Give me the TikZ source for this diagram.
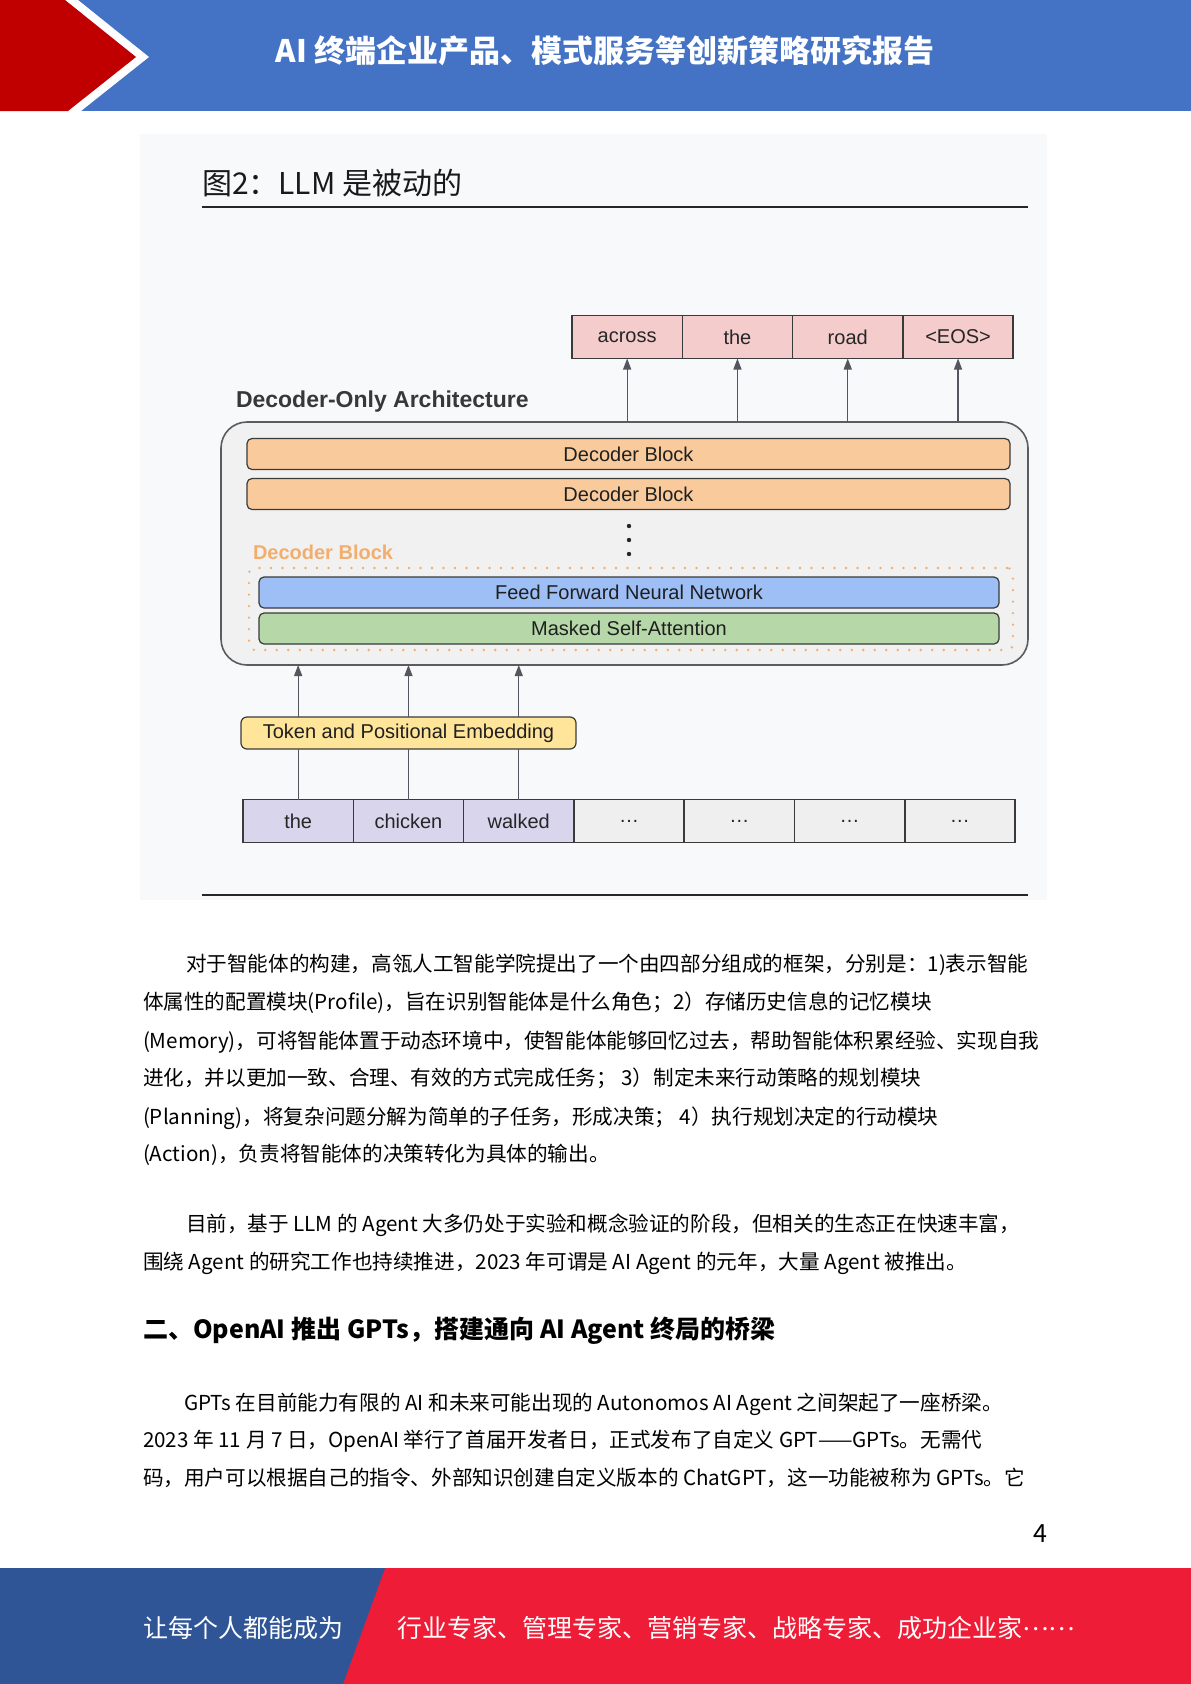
\documentclass[tikz,border=0pt]{standalone}
\usepackage{fontspec}
\setmainfont{Noto Sans CJK SC}
\newfontfamily\arialfont{Liberation Sans}
\usetikzlibrary{arrows.meta, positioning, calc}
\definecolor{hdrblue}{HTML}{4472C4}
\definecolor{hdrred}{HTML}{C00000}
\definecolor{ftblue}{HTML}{2F5597}
\definecolor{ftred}{HTML}{EE1C36}
\definecolor{figbg}{HTML}{F8F9FA}
\definecolor{linec}{HTML}{3A3A3A}
\definecolor{arrowc}{HTML}{55555F}
\definecolor{boxfill}{HTML}{F1F1F1}
\definecolor{boxline}{HTML}{5C5C5C}
\definecolor{cellpink}{HTML}{F4CCCC}
\definecolor{cellpurple}{HTML}{D9D5EC}
\definecolor{cellgray}{HTML}{EFEFEF}
\definecolor{decorange}{HTML}{F9CB9C}
\definecolor{ffblue}{HTML}{9DBFF5}
\definecolor{msagreen}{HTML}{B6D7A8}
\definecolor{embyellow}{HTML}{FFE599}
\definecolor{laborange}{HTML}{F2AE6E}

\begin{document}
\begin{tikzpicture}[
    x=1pt, y=-1pt,
    every node/.style={inner sep=0pt, outer sep=0pt},
    cell/.style={
        rectangle, draw=linec, line width=1.6pt, fill=#1,
        minimum width=110.3pt, minimum height=43pt,
        font=\arialfont\fontsize{20}{20}\selectfont, text=black!85,
    },
    bar/.style={
        rectangle, rounded corners=5pt, draw=linec, line width=1.2pt,
        fill=#1, minimum height=31pt,
        font=\arialfont\fontsize{20}{20}\selectfont, text=black!88,
    },
    arr/.style={-{Triangle[length=11pt, width=8pt]}, line width=1.3pt, draw=arrowc},
    link/.style={line width=1.3pt, draw=arrowc},
    body/.style={anchor=base west, font=\fontsize{20.6}{24}\selectfont, text=black},
    foot/.style={anchor=west, font=\fontsize{25}{25}\selectfont, text=white},
]
\useasboundingbox (0,0) rectangle (1191,1684);
\fill[white] (0,0) rectangle (1191,1684);

% ---------------------------------------------------------------- header
\fill[hdrblue] (0,0) rectangle (1191,111);
\fill[white] (0,0) -- (78,0) -- (149,57) -- (81,111) -- (0,111) -- cycle;
\fill[hdrred] (0,0) -- (65,0) -- (136,57) -- (68,111) -- (0,111) -- cycle;
\node[font=\bfseries\fontsize{31}{31}\selectfont, text=white] (title) at (605,51)
    {AI 终端企业产品、模式服务等创新策略研究报告};

% ---------------------------------------------------------------- figure
\fill[figbg] (140,134) rectangle (1047,900);
\node[anchor=west, font=\fontsize{30}{30}\selectfont, text=black!90] (figtitle) at (202,183)
    {图2：LLM 是被动的};
\draw[line width=2pt, black!85] (202,207) -- (1028,207);
\draw[line width=2pt, black!85] (202,895) -- (1028,895);

% outputs
\foreach \w [count=\i] in {across,the,road,<EOS>}{
    \node[cell=cellpink] (out\i) at ({572+55.15*(2*\i-1)},337) {\w};
}

\node[anchor=west, font=\arialfont\bfseries\fontsize{23}{23}\selectfont, text=black!78] (archlab)
    at (236,402) {Decoder-Only Architecture};

% the decoder stack
\node[draw=boxline, line width=1.6pt, fill=boxfill, rounded corners=26pt,
    minimum width=807pt, minimum height=243pt] (arch) at (624.5,543.5) {};
\node[bar=decorange, minimum width=763pt] (dec1) at (628.5,454) {Decoder Block};
\node[bar=decorange, minimum width=763pt] (dec2) at (628.5,494) {Decoder Block};
\foreach \y in {526,540,554}{
    \fill[black!85] (629,\y) circle (2.2pt);
}
\node[anchor=west, font=\arialfont\bfseries\fontsize{20}{20}\selectfont, text=laborange] (blklab)
    at (253,552) {Decoder Block};
\node[draw=laborange, line width=2.6pt, dash pattern=on 0pt off 11.5pt, line cap=round,
    rounded corners=6pt, minimum width=764pt, minimum height=82pt] (blk) at (631,609) {};
\node[bar=ffblue, minimum width=740pt] (ffnn) at (629,592.5) {Feed Forward Neural Network};
\node[bar=msagreen, minimum width=740pt] (msa) at (629,628.5) {Masked Self-Attention};

\foreach \i in {1,...,4}{
    \draw[arr] (arch.north -| out\i.south) -- (out\i.south);
}

% inputs
\node[bar=embyellow, rounded corners=6pt, minimum width=335pt, minimum height=32pt] (emb)
    at (408.5,733) {Token and Positional Embedding};
\foreach \w/\c [count=\i] in {the/cellpurple, chicken/cellpurple, walked/cellpurple,
        \dots/cellgray, \dots/cellgray, \dots/cellgray, \dots/cellgray}{
    \node[cell=\c] (in\i) at ({243+55.15*(2*\i-1)},821) {\w};
}
\foreach \i in {1,2,3}{
    \draw[link] (in\i.north) -- (emb.south -| in\i.north);
    \draw[arr] (emb.north -| in\i.north) -- (arch.south -| in\i.north);
}

% ---------------------------------------------------------------- text
\node[body] (p1a) at (186,971) {对于智能体的构建，高瓴人工智能学院提出了一个由四部分组成的框架，分别是：1)表示智能};
\node[body] (p1b) at (143,1009) {体属性的配置模块(Profile)，旨在识别智能体是什么角色；2）存储历史信息的记忆模块};
\node[body] (p1c) at (143,1048) {(Memory)，可将智能体置于动态环境中，使智能体能够回忆过去，帮助智能体积累经验、实现自我};
\node[body] (p1d) at (143,1085) {进化，并以更加一致、合理、有效的方式完成任务； 3）制定未来行动策略的规划模块};
\node[body] (p1e) at (143,1124) {(Planning)，将复杂问题分解为简单的子任务，形成决策； 4）执行规划决定的行动模块};
\node[body] (p1f) at (143,1161) {(Action)，负责将智能体的决策转化为具体的输出。};

\node[body] (p2a) at (186,1231) {目前，基于 LLM 的 Agent 大多仍处于实验和概念验证的阶段，但相关的生态正在快速丰富，};
\node[body] (p2b) at (143,1269) {围绕 Agent 的研究工作也持续推进，2023 年可谓是 AI Agent 的元年，大量 Agent 被推出。};

\node[anchor=base west, font=\bfseries\fontsize{25}{25}\selectfont] (sec) at (143,1338)
    {二、OpenAI 推出 GPTs，搭建通向 AI Agent 终局的桥梁};

\node[body] (p3a) at (184,1410) {GPTs 在目前能力有限的 AI 和未来可能出现的 Autonomos AI Agent 之间架起了一座桥梁。};
\node[body] (p3b) at (143,1447) {2023 年 11 月 7 日，OpenAI 举行了首届开发者日，正式发布了自定义 GPT——GPTs。无需代};
\node[body] (p3c) at (143,1485) {码，用户可以根据自己的指令、外部知识创建自定义版本的 ChatGPT，这一功能被称为 GPTs。它};

\node[font=\fontsize{25}{25}\selectfont] (pgnum) at (1040,1534) {4};

% ---------------------------------------------------------------- footer
\fill[ftred] (0,1568) rectangle (1191,1684);
\fill[ftblue] (0,1568) -- (385,1568) -- (343,1684) -- (0,1684) -- cycle;
\node[foot] (slogan) at (143,1628) {让每个人都能成为};
\node[foot] (roles) at (397,1628) {行业专家、管理专家、营销专家、战略专家、成功企业家\raisebox{0.3em}{……}};

\end{tikzpicture}
\end{document}
